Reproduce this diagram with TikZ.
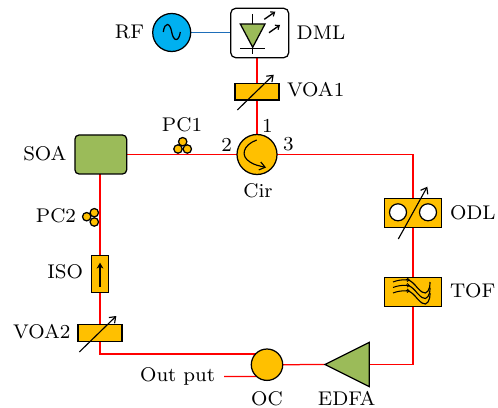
\documentclass[tikz,border=0pt]{standalone}
\usetikzlibrary{arrows.meta,backgrounds,calc}
\definecolor{gold}{RGB}{255,192,0}
\definecolor{olive}{RGB}{155,187,89}
\definecolor{sky}{RGB}{0,176,240}
\definecolor{wire}{RGB}{30,110,185}
\def\u{0.44pt}
\tikzset{
  x=0.44pt,y=-0.44pt,
  every node/.style={inner sep=0pt,outer sep=0pt},
  part/.style={draw=black,line width=0.55pt},
  boxpart/.style={part,fill=gold,rectangle,minimum width=#1*\u},
  hbox/.style={boxpart=44,minimum height=16.6*\u},
  wide/.style={boxpart=57.4,minimum height=29*\u},
  disc/.style={part,circle,minimum size=#1*\u},
  fib/.style={red,line width=0.55pt},
  tune/.style={line width=0.5pt,-{Straight Barb[length=2.4pt,width=3.6pt,line width=0.5pt]}},
  thin arrow/.style={line width=0.6pt,-{Straight Barb[length=1.5pt,width=2.4pt,line width=0.5pt]}},
  pc/.style={disc=8.4,fill=gold},
  txt/.style={font=\footnotesize,scale=1.09},
  lbl/.style={txt,anchor=mid west},
  lbr/.style={txt,anchor=mid east},
}
\begin{document}
\begin{tikzpicture}
\useasboundingbox (0,0) rectangle (498,407);
% components
\node[disc=38,fill=sky] (rf) at (171.7,32.5) {};
\node[part,rounded corners=2.2pt,fill=white,minimum width=58*\u,minimum height=49.4*\u] (dml) at (259.7,33) {};
\node[hbox] (voa1) at (257,91.7) {};
\node[disc=40,fill=gold] (cir) at (257,154.5) {};
\node[part,rounded corners=1.8pt,fill=olive,minimum width=51.7*\u,minimum height=39*\u] (soa) at (100.8,154.5) {};
\node[wide] (odl) at (413,213.2) {};
\node[wide] (tof) at (413,291.8) {};
\node[boxpart=17.7,minimum height=37*\u] (iso) at (100,273.8) {};
\node[hbox] (voa2) at (100,333) {};
\node[disc=31.4,fill=gold] (oc) at (267,364.7) {};
\coordinate (edfaA) at (325,364.5);
\coordinate (edfaB) at (369.3,342.3);
\coordinate (edfaC) at (369.3,386.7);
\coordinate (edfaBase) at (369.3,364.5);
\filldraw[fill=olive,draw=black,line width=0.55pt] (edfaA) -- (edfaB) -- (edfaC) -- cycle;
\coordinate (outEnd) at (224,376.5);
\coordinate (ocIn) at ($(oc.center)+(-11,-10.7)$);
\coordinate (ocOut) at ($(oc.center)+(-11,11.8)$);
% connectors
\begin{pgfonlayer}{background}
\draw[line width=0.65pt,wire] (rf.east) -- (rf.east -| dml.west);
\draw[fib] (voa1 |- dml.south) -- (voa1.north);
\draw[fib] (voa1.south) -- (cir.north);
\draw[fib] (soa.east |- cir.west) -- (cir.west);
\draw[fib] (cir.east) -| (odl.north);
\draw[fib] (odl.south) -- (tof.north);
\draw[fib] (tof.south) |- (edfaBase);
\draw[fib] (edfaA) -- (oc.east);
\draw[fib] (soa.south -| iso) -- (iso.north);
\draw[fib] (iso.south) -- (voa2.north);
\draw[fib] (voa2.south) |- (ocIn);
\draw[fib] (outEnd) -- (ocOut);
\end{pgfonlayer}
% RF sine
\draw[line width=0.55pt] (163.3,32) .. controls (164.5,22) and (170,22) .. (171.7,32) .. controls (173.4,42) and (179,42) .. (180.3,32);
% diode
\filldraw[fill=olive,draw=black,line width=0.55pt] (240.3,24) -- (265,24) -- (252.7,47.3) -- cycle;
\draw[line width=0.55pt] (252.7,14) -- (252.7,24) (252.7,47.3) -- (252.7,54.3) (240.3,48.7) -- (265,48.7);
\draw[thin arrow] (264.3,19.3) -- (275.3,11.7);
\draw[thin arrow] (269,32.7) -- (280,25);
% tunable arrows
\draw[tune] (237.3,110) -- (273.7,74.7);
\draw[tune] (79.3,352) -- (116.3,316);
\draw[tune] (398.3,239) -- (427.3,186.7);
% PCs
\node[pc] (pc1a) at (182.7,141.7) {};
\node[pc] (pc1b) at (178,149) {};
\node[pc] (pc1c) at (187.3,149) {};
\node[pc] (pc2a) at (94.3,212.7) {};
\node[pc] (pc2b) at (86.7,216.7) {};
\node[pc] (pc2c) at (94.3,222) {};
% circulator curve
\draw[tune] (256.7,140) .. controls (243,145) and (240,156) .. (250,162) .. controls (254,165) and (260,166) .. (266,167.5);
% ODL holes
\node[disc=17,fill=white] (odla) at (398,212.3) {};
\node[disc=17,fill=white] (odlb) at (428,212.3) {};
% ISO arrow
\draw[line width=0.75pt,-{Stealth[length=2.6pt,width=3pt]}] (100,286.7) -- (100,262.7);
% TOF filter curves
\foreach \d in {0,5.5,11}{
  \draw[line width=0.5pt] (406,{279.5+\d}) .. controls (410,{280+\d}) and (412,{282+\d}) .. (415,{285+\d}) .. controls (420,{291+\d}) and (425,{296+\d}) .. (428,{291+\d}) .. controls (429.5,{289+\d}) and (430,{286+\d}) .. (430,{282+\d});
  \draw[line width=0.45pt,-{Straight Barb[length=1pt,width=1.6pt,line width=0.35pt]}] (393,{282+\d}) .. controls (398,{280+\d}) and (403,{279.5+\d}) .. (410,{280+\d});
}
% labels
\node[lbr] (lrf) at (144,33) {RF};
\node[lbl] (ldml) at (296.7,34.5) {DML};
\node[lbl] (lvoa1) at (287,91.5) {VOA1};
\node[txt] (lpc1) at (182,125) {PC1};
\node[txt] (l1) at (267.5,126) {1};
\node[txt] (l2) at (226.7,144.5) {2};
\node[txt] (l3) at (288.5,144.5) {3};
\node[txt] (lcir) at (258,190.5) {Cir};
\node[lbr] (lsoa) at (66.5,155) {SOA};
\node[lbr] (lpc2) at (76,217.5) {PC2};
\node[lbr] (liso) at (83,273) {ISO};
\node[lbr] (lvoa2) at (70.5,333.5) {VOA2};
\node[lbl] (lodl) at (450,214) {ODL};
\node[lbl] (ltof) at (450,292) {TOF};
\node[lbr] (lout) at (215,376.5) {Out put};
\node[txt] (loc) at (267,398.5) {OC};
\node[txt] (ledfa) at (346.7,398.5) {EDFA};
\end{tikzpicture}
\end{document}
